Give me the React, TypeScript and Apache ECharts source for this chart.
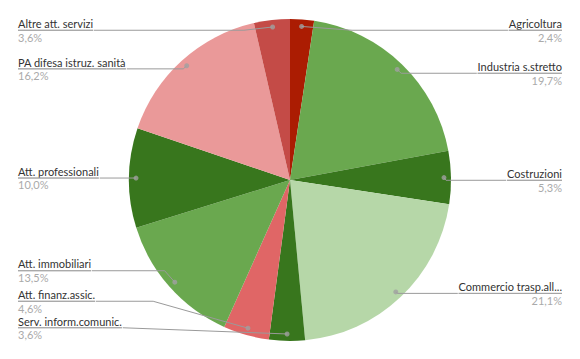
import React, { useEffect, useRef } from 'react';
import * as echarts from 'echarts';

const categories = [
  'Agricoltura',
  'Industria s.stretto',
  'Costruzioni',
  'Commercio trasp.all...',
  'Serv. inform.comunic.',
  'Att. finanz.assic.',
  'Att. immobiliari',
  'Att. professionali',
  'PA difesa istruz. sanità',
  'Altre att. servizi',
];
const values = [2.4, 19.7, 5.3, 21.1, 3.6, 4.6, 13.5, 10.0, 16.2, 3.6];
const colors = [
  '#ab1c02',
  '#6aa84f',
  '#38761d',
  '#b6d7a8',
  '#38761d',
  '#e06666',
  '#6aa84f',
  '#38761d',
  '#ea9999',
  '#c44b47',
];
// labels laid out together (crowded lower-left group)
const crowdedGroup = ['Serv. inform.comunic.', 'Att. finanz.assic.', 'Att. immobiliari'];

const CENTER: [number, number] = [290, 180];
const PIE_R = 161;
const DOT_R = 154;
const BOX_TOP = 17;
const BOX_BOTTOM = 18;

export default function App() {
  const ref = useRef<HTMLDivElement>(null);
  useEffect(() => {
    const chart = echarts.init(ref.current!, null, { renderer: 'svg' });
    const total = values.reduce((a, b) => a + b, 0);
    let acc = 0;
    const mids = values.map((v) => {
      const m = acc + v / 2;
      acc += v;
      return [DOT_R, (m / total) * 100];
    });
    const fmt = (v: number) => v.toFixed(1).replace('.', ',') + '%';
    const pieCenter = [CENTER[0], CENTER[1] - BOX_TOP];

    const labelPie = (inGroup: boolean, z: number) => ({
      type: 'pie',
      left: 0,
      right: 0,
      top: BOX_TOP,
      bottom: BOX_BOTTOM,
      center: pieCenter,
      radius: DOT_R,
      startAngle: 90,
      clockwise: true,
      silent: true,
      z,
      itemStyle: { color: 'rgba(0,0,0,0)' },
      label: {
        show: true,
        alignTo: 'edge',
        edgeDistance: 18,
        distanceToLabelLine: 0,
        formatter: (p: any) => `{n|${p.name}}\n{hr|}\n{p|${fmt(p.value)}}`,
        rich: {
          n: { fontFamily: 'Lato', fontSize: 11, color: '#333333', lineHeight: 13.5 },
          hr: { width: '100%', height: 0, borderColor: '#9a9a9a', borderWidth: 0.8 },
          p: { fontFamily: 'Lato', fontSize: 11, color: '#aaaaaa', lineHeight: 13.5 },
        },
      },
      labelLine: {
        show: true,
        length: 2,
        length2: 0,
        lineStyle: { color: '#9a9a9a', width: 1 },
      },
      data: categories.map((c, i) => {
        const show = crowdedGroup.includes(c) === inGroup;
        return {
          name: c,
          value: values[i],
          label: { show },
          labelLine: { show },
        };
      }),
    });

    chart.setOption({
      animation: false,
      textStyle: { fontFamily: 'Lato' },
      polar: { center: CENTER, radius: PIE_R },
      angleAxis: { type: 'value', min: 0, max: 100, startAngle: 90, clockwise: true, show: false },
      radiusAxis: { type: 'value', min: 0, max: PIE_R, show: false },
      series: [
        {
          type: 'pie',
          left: 0,
          right: 0,
          top: BOX_TOP,
          bottom: BOX_BOTTOM,
          center: pieCenter,
          radius: PIE_R,
          startAngle: 90,
          clockwise: true,
          silent: true,
          z: 1,
          label: { show: false },
          labelLine: { show: false },
          data: categories.map((c, i) => ({ name: c, value: values[i], itemStyle: { color: colors[i] } })),
        },
        labelPie(false, 2),
        labelPie(true, 2),
        {
          type: 'scatter',
          coordinateSystem: 'polar',
          silent: true,
          z: 3,
          symbolSize: 5,
          itemStyle: { color: '#a0a0a0' },
          data: mids,
        },
      ],
    });
    return () => chart.dispose();
  }, []);
  return (
    <div
      ref={ref}
      style={{ position: 'absolute', left: 0, top: 0, width: 580, height: 359 }}
    />
  );
}
